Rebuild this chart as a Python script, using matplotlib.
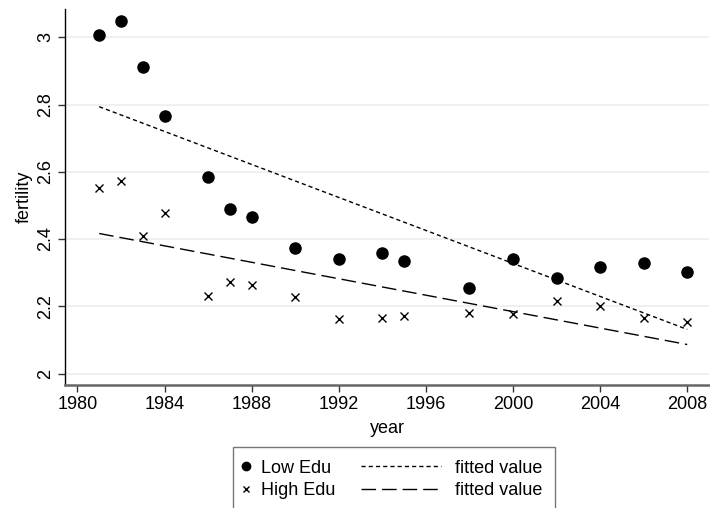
import numpy as np
import matplotlib
matplotlib.use("Agg")
import matplotlib.pyplot as plt
from matplotlib.lines import Line2D
from matplotlib.legend_handler import HandlerLine2D

plt.rcParams['font.family'] = ['Liberation Sans', 'DejaVu Sans']

# data
years = [1981, 1982, 1983, 1984, 1986, 1987, 1988, 1990, 1992,
         1994, 1995, 1998, 2000, 2002, 2004, 2006, 2008]
low_edu = [3.008, 3.048, 2.913, 2.767, 2.584, 2.490, 2.465, 2.374, 2.341,
           2.359, 2.334, 2.255, 2.341, 2.284, 2.318, 2.329, 2.301]
high_edu = [2.552, 2.573, 2.410, 2.476, 2.230, 2.273, 2.262, 2.229, 2.163,
            2.164, 2.172, 2.179, 2.176, 2.217, 2.202, 2.166, 2.154]
xticks = [1980, 1984, 1988, 1992, 1996, 2000, 2004, 2008]
yticks = [2, 2.2, 2.4, 2.6, 2.8, 3]
labels = ['Low Edu', 'High Edu', 'fitted value', 'fitted value']

# linear fits, like stata's lfit
yr = np.array(years)
fit_low = np.polyval(np.polyfit(yr, low_edu, 1), yr)
fit_high = np.polyval(np.polyfit(yr, high_edu, 1), yr)

fs = 13
fig = plt.figure(figsize=(7.1, 5.08), dpi=100)
ax = fig.add_axes([65/710, 1-385/508, 644/710, 376/508])

ax.plot(years, low_edu, 'o', color='black', ms=8, zorder=3)
ax.plot(years, high_edu, 'x', color='black', ms=5.5, mew=1.0, zorder=3)
ax.plot(years, fit_low, color='black', lw=1.0, dashes=(3.0, 2.2), zorder=2)
ax.plot(years, fit_high, color='black', lw=1.0, dashes=(10.5, 4.3), zorder=2)

ax.set_xlim(1979.43, 2009.0)
ax.set_ylim(1.966, 3.084)
ax.set_xticks(xticks)
ax.set_yticks(yticks)
ax.set_yticklabels([f'{v:g}' for v in yticks], rotation=90, va='center')
ax.tick_params(axis='both', labelsize=fs, length=5, width=1, color='#333333')
ax.tick_params(axis='x', pad=3)
ax.tick_params(axis='y', pad=3)

ax.grid(axis='y', color='#e9eff2', lw=1.2)
ax.set_axisbelow(True)
for s in ['top', 'right']:
    ax.spines[s].set_visible(False)
ax.spines['left'].set_color('black')
ax.spines['left'].set_linewidth(1.0)
ax.spines['bottom'].set_color('#666666')
ax.spines['bottom'].set_linewidth(1.8)

ax.set_xlabel('year', fontsize=fs, labelpad=5)
ax.set_ylabel('fertility', fontsize=fs, labelpad=3)


# narrow handle box for the marker column
class NarrowHandler(HandlerLine2D):
    def __init__(self, w, **kw):
        super().__init__(**kw)
        self.w = w

    def legend_artist(self, legend, orig_handle, fontsize, handlebox):
        handlebox.width = self.w
        return super().legend_artist(legend, orig_handle, fontsize, handlebox)


h_low = Line2D([], [], ls='none', marker='o', color='black', ms=6)
h_high = Line2D([], [], ls='none', marker='x', color='black', ms=4, mew=1.0)
h_fl = Line2D([], [], color='black', lw=1.0, dashes=(3.0, 2.2))
h_fh = Line2D([], [], color='black', lw=1.0, dashes=(10.5, 4.3))

leg = fig.legend([h_low, h_high, h_fl, h_fh], labels, ncol=2,
                 loc='upper left', bbox_to_anchor=(232.7/710, 1-447/508),
                 fontsize=fs, frameon=True, fancybox=False,
                 borderpad=0.7, handlelength=4.43, handletextpad=0.78,
                 columnspacing=1.44, labelspacing=0.3, borderaxespad=0,
                 handler_map={h_low: NarrowHandler(1.0),
                              h_high: NarrowHandler(1.0)})
leg.get_frame().set_edgecolor('#555555')
leg.get_frame().set_linewidth(1.0)

fig.savefig('out.png', dpi=100)
